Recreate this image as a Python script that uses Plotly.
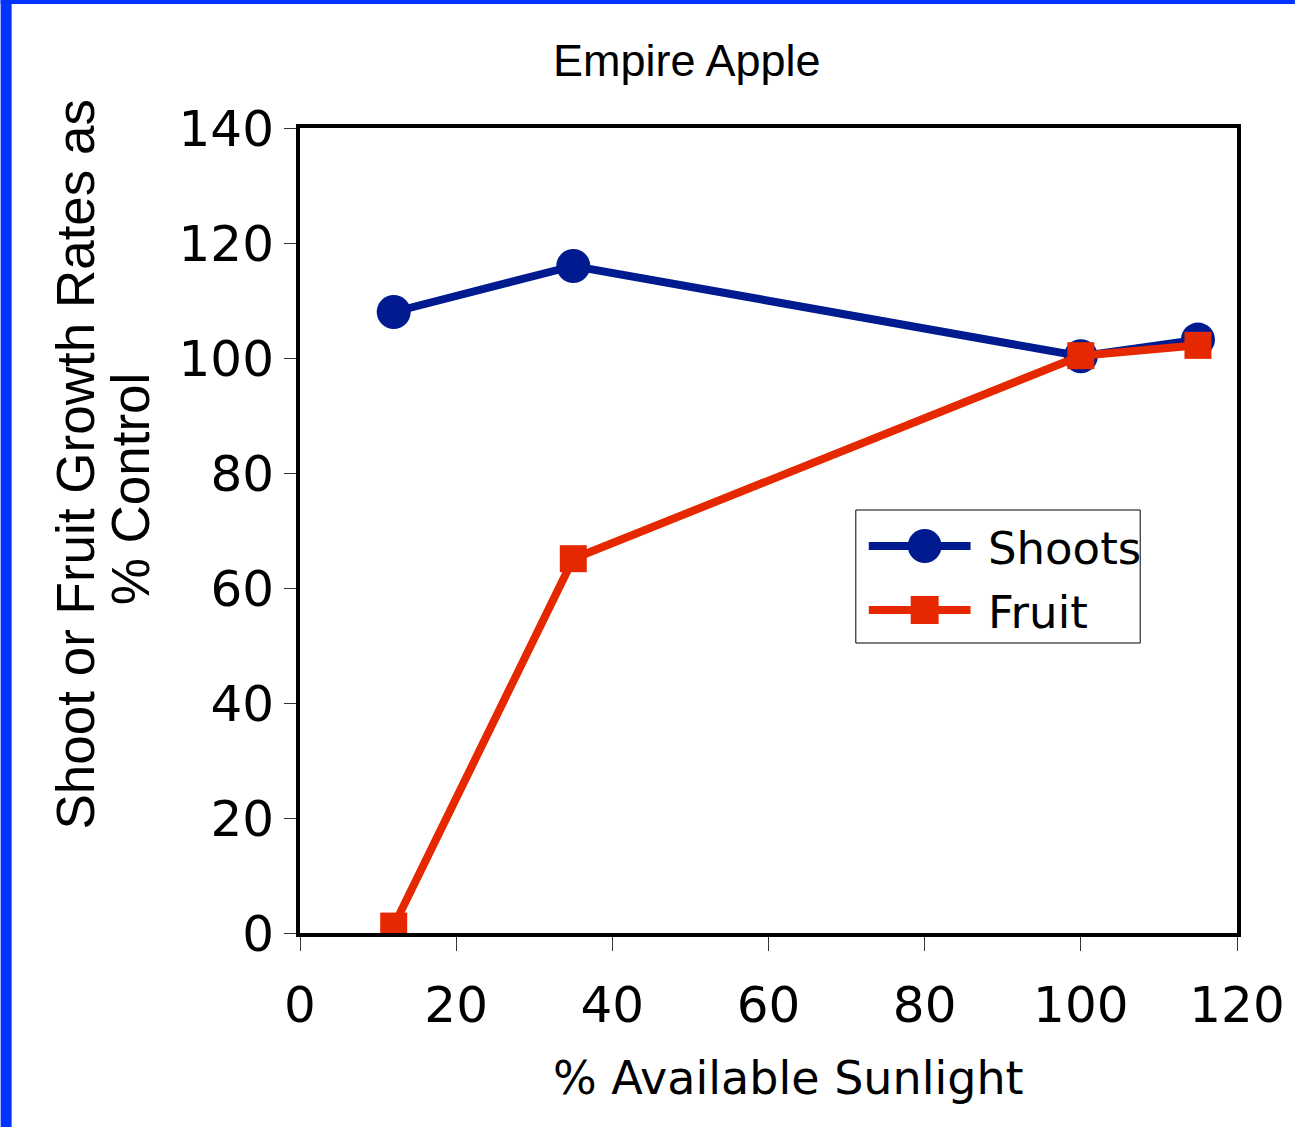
import plotly.graph_objects as go

sunlight = [12, 35, 100, 115]
shoots = [108, 116, 100.3, 103.2]
fruit = [1.2, 65.1, 100.4, 102.2]
series_names = ["Shoots", "Fruit"]

x_ticks = [0, 20, 40, 60, 80, 100, 120]
y_ticks = [0, 20, 40, 60, 80, 100, 120, 140]

W, H = 1297, 1127
L, R, T, B = 300, 58, 128, 194
PW, PH = W - L - R, H - T - B

def px(x):
    return (x - L) / PW

def py(y):
    return (H - B - y) / PH

blue = "#001a8f"
red = "#e62800"

fig = go.Figure()
fig.add_trace(go.Scatter(
    x=sunlight, y=shoots, name=series_names[0], mode="lines+markers",
    line=dict(color=blue, width=8),
    marker=dict(symbol="circle", size=34, color=blue),
))
fig.add_trace(go.Scatter(
    x=sunlight, y=fruit, name=series_names[1], mode="lines+markers",
    line=dict(color=red, width=8),
    marker=dict(symbol="square", size=27, color=red),
))

axis_common = dict(
    showgrid=False, zeroline=False, showline=True, linecolor="black",
    linewidth=4, mirror=True, ticks="outside", tickcolor="#333333",
    tickwidth=1, tickfont=dict(family="DejaVu Sans", size=50, color="black"),
)

fig.update_xaxes(range=[0, 120], tickvals=x_ticks, ticklen=14,
                 ticklabelstandoff=11, **axis_common)
fig.update_yaxes(range=[0, 140], tickvals=y_ticks, ticklen=12,
                 ticklabelstandoff=0, **axis_common)

annotations = [
    dict(text="Empire Apple", x=px(688), y=py(60), xref="paper", yref="paper",
         showarrow=False, font=dict(family="Liberation Sans", size=45, color="black"),
         xanchor="center", yanchor="middle"),
    dict(text="% Available Sunlight", x=px(790), y=py(1078), xref="paper", yref="paper",
         showarrow=False, font=dict(family="DejaVu Sans", size=46, color="black"),
         xanchor="center", yanchor="middle"),
    dict(text="Shoot or Fruit Growth Rates as", x=px(75), y=py(464), xref="paper", yref="paper",
         showarrow=False, textangle=-90,
         font=dict(family="Liberation Sans", size=53, color="black"),
         xanchor="center", yanchor="middle"),
    dict(text="% Control", x=px(130), y=py(489), xref="paper", yref="paper",
         showarrow=False, textangle=-90,
         font=dict(family="Liberation Sans", size=53, color="black"),
         xanchor="center", yanchor="middle"),
]

# custom legend (large symbols as in the original)
leg_rows = [(series_names[0], blue, "circle", 546), (series_names[1], red, "square", 610)]
shapes = [
    dict(type="rect", xref="paper", yref="paper", x0=px(857), x1=px(1142),
         y0=py(643), y1=py(510), fillcolor="white", line=dict(color="black", width=1),
         layer="above"),
]
for name, col, sym, yc in leg_rows:
    shapes.append(dict(type="line", xref="paper", yref="paper", x0=px(870), x1=px(972),
                       y0=py(yc), y1=py(yc), line=dict(color=col, width=8), layer="above"))
    if sym == "circle":
        shapes.append(dict(type="circle", xref="paper", yref="paper", x0=px(909), x1=px(943),
                           y0=py(yc + 17), y1=py(yc - 17), fillcolor=col,
                           line=dict(width=0), layer="above"))
    else:
        shapes.append(dict(type="rect", xref="paper", yref="paper", x0=px(912), x1=px(940),
                           y0=py(yc + 14), y1=py(yc - 14), fillcolor=col,
                           line=dict(width=0), layer="above"))
    annotations.append(dict(text=name, x=px(987), y=py(yc + 2), xref="paper", yref="paper",
                            showarrow=False, xanchor="left", yanchor="middle",
                            font=dict(family="DejaVu Sans", size=45, color="black")))

shapes += [
    dict(type="rect", xref="paper", yref="paper", x0=px(0), x1=px(11), y0=py(H), y1=py(0),
         fillcolor="#0033ff", line=dict(width=0), layer="above"),
    dict(type="rect", xref="paper", yref="paper", x0=px(0), x1=px(W), y0=py(4), y1=py(0),
         fillcolor="#0033ff", line=dict(width=0), layer="above"),
]

fig.update_layout(
    width=W, height=H,
    margin=dict(l=L, r=R, t=T, b=B),
    paper_bgcolor="white", plot_bgcolor="white",
    showlegend=False,
    annotations=annotations,
    shapes=shapes,
)

fig.write_html("out.html")
